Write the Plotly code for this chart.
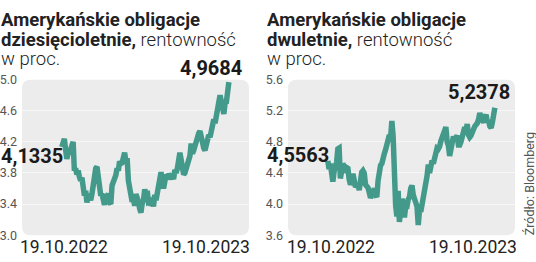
import pandas as pd
import plotly.graph_objects as go

# ---- data ----
start_date = "2022-10-19"
end_date = "2023-10-19"

y10 = [4.1335, 4.23, 4.24, 4.10, 3.98, 4.06, 4.04,
       4.10, 4.16, 4.20, 3.83, 3.86, 3.78, 3.83, 3.75, 3.70, 3.74, 3.61,
       3.51, 3.57, 3.42, 3.53, 3.48, 3.45, 3.53, 3.66, 3.75, 3.86, 3.88,
       3.72, 3.56, 3.51, 3.53, 3.43, 3.39, 3.48, 3.52, 3.53, 3.42,
       3.40, 3.64, 3.68, 3.74, 3.77, 3.86, 3.83, 3.95, 3.92, 3.93,
       4.01, 4.06, 3.95, 3.99, 3.70, 3.57, 3.51, 3.43, 3.47, 3.38, 3.53, 3.49,
       3.43, 3.34, 3.29, 3.41, 3.45, 3.59, 3.52, 3.57, 3.43, 3.44,
       3.38, 3.44, 3.37, 3.52, 3.45, 3.57, 3.65, 3.72, 3.81, 3.69, 3.60,
       3.69, 3.78, 3.72, 3.79, 3.76, 3.72, 3.77, 3.72, 3.84, 3.80, 3.86,
       4.05, 4.06, 3.97, 3.86, 3.78, 3.80, 3.85, 3.91, 3.96, 4.02,
       4.18, 4.05, 4.09, 4.16, 4.19, 4.28, 4.31, 4.34, 4.23, 4.19, 4.12, 4.09,
       4.18, 4.27, 4.29, 4.26, 4.33, 4.35, 4.49, 4.44, 4.54, 4.61,
       4.69, 4.80, 4.72, 4.65, 4.56, 4.70, 4.71, 4.84, 4.9684]

y2 = [4.5563, 4.45, 4.52, 4.38, 4.29, 4.42, 4.48,
      4.54, 4.71, 4.72, 4.33, 4.41, 4.52, 4.48, 4.45, 4.47, 4.46, 4.32,
      4.25, 4.29, 4.39, 4.31, 4.22, 4.24, 4.26, 4.18, 4.32, 4.41, 4.43,
      4.40, 4.25, 4.24, 4.21, 4.15, 4.08, 4.12, 4.18, 4.20, 4.12,
      4.09, 4.30, 4.47, 4.50, 4.52, 4.62, 4.65, 4.70, 4.78, 4.81,
      4.89, 4.86, 5.07, 4.87, 4.03, 3.98, 3.84, 4.17, 3.77, 3.97, 4.06, 4.03,
      3.83, 3.97, 3.97, 4.06, 4.09, 4.20, 4.24, 4.12, 4.07, 4.01,
      3.97, 3.73, 3.92, 3.90, 3.99, 4.05, 4.17, 4.27, 4.36, 4.51, 4.40,
      4.48, 4.56, 4.52, 4.59, 4.65, 4.72, 4.71, 4.74, 4.81, 4.87, 4.87,
      4.94, 4.99, 4.80, 4.75, 4.62, 4.74, 4.83, 4.87, 4.83, 4.88,
      4.88, 4.76, 4.76, 4.80, 4.89, 4.96, 4.99, 4.94, 5.03, 4.89, 4.86, 4.88,
      4.94, 4.99, 5.00, 5.02, 5.04, 5.09, 5.17, 5.11, 5.09, 5.05,
      5.11, 5.15, 5.05, 5.08, 5.00, 4.98, 5.05, 5.17, 5.2378]

ticks10 = [3.0, 3.4, 3.8, 4.2, 4.6, 5.0]
ticks2 = [3.6, 4.0, 4.4, 4.8, 5.2, 5.6]
tick_text10 = ["3.0", "3.4", "3.8", "4.2", "4.6", "5.0"]
tick_text2 = ["3.6", "4.0", "4.4", "4.8", "5.2", "5.6"]

title10_lines = ["<b>Amerykańskie obligacje</b>", "<b>dziesięcioletnie,</b> rentowność", "w proc."]
title2_lines = ["<b>Amerykańskie obligacje</b>", "<b>dwuletnie,</b> rentowność", "w proc."]
first10, last10 = "4,1335", "4,9684"
first2, last2 = "4,5563", "5,2378"
date_labels = ["19.10.2022", "19.10.2023"]
source = "Źródło: Bloomberg"

# ---- figure ----
W, H = 536, 262
LINE = "#439a8b"
BG = "#ececec"
FONT = "Roboto"

d10 = pd.date_range(start_date, end_date, periods=len(y10))
d2 = pd.date_range(start_date, end_date, periods=len(y2))

x_range = [pd.Timestamp(start_date) - pd.Timedelta(days=87),
           pd.Timestamp(end_date) + pd.Timedelta(days=44)]

fig = go.Figure()
fig.add_trace(go.Scatter(x=d10, y=y10, mode="lines", xaxis="x", yaxis="y",
                         line=dict(color=LINE, width=5.5), hoverinfo="skip"))
fig.add_trace(go.Scatter(x=d2, y=y2, mode="lines", xaxis="x2", yaxis="y2",
                         line=dict(color=LINE, width=5.5), hoverinfo="skip"))

px = lambda v: v / W
py = lambda v: 1 - v / H

dom_y = [py(241), py(76)]
dom_x1 = [px(22), px(249)]
dom_x2 = [px(288), px(515)]

common_x = dict(range=x_range, showgrid=False, showticklabels=False, zeroline=False,
                showline=False, fixedrange=True)
fig.update_layout(
    width=W, height=H, margin=dict(l=0, r=0, t=0, b=0),
    paper_bgcolor="white", plot_bgcolor="rgba(0,0,0,0)", showlegend=False,
    font=dict(family=FONT, color="#222"),
    xaxis=dict(domain=dom_x1, anchor="y", **common_x),
    xaxis2=dict(domain=dom_x2, anchor="y2", **common_x),
    yaxis=dict(domain=dom_y, anchor="x", range=[3.0, 5.0], tickvals=ticks10, ticktext=tick_text10,
               showgrid=True, gridcolor="#f7f7f7", gridwidth=1, zeroline=False, ticks="",
               tickfont=dict(size=12.5, color="#555", family=FONT), ticklabelstandoff=4,
               fixedrange=True),
    yaxis2=dict(domain=dom_y, anchor="x2", range=[3.6, 5.6], tickvals=ticks2, ticktext=tick_text2,
                showgrid=True, gridcolor="#f7f7f7", gridwidth=1, zeroline=False, ticks="",
                tickfont=dict(size=12.5, color="#555", family=FONT), ticklabelstandoff=4,
                fixedrange=True),
)


def rounded_rect(x0, y0, x1, y1, r):
    rx, ry = r / W, r / H
    X0, X1 = px(x0), px(x1)
    Y0, Y1 = py(y1), py(y0)  # bottom, top in paper
    return (f"M {X0+rx},{Y1} L {X1-rx},{Y1} Q {X1},{Y1} {X1},{Y1-ry} "
            f"L {X1},{Y0+ry} Q {X1},{Y0} {X1-rx},{Y0} L {X0+rx},{Y0} "
            f"Q {X0},{Y0} {X0},{Y0+ry} L {X0},{Y1-ry} Q {X0},{Y1} {X0+rx},{Y1} Z")


for (a, b) in [(22, 249), (288, 515)]:
    fig.add_shape(type="path", path=rounded_rect(a, 76, b, 241, 9), xref="paper", yref="paper",
                  fillcolor=BG, line=dict(width=0), layer="below")

ann = []
tfont = dict(size=18.5, color="#222", family=FONT, weight=300)
for x0, lines in [(-1, title10_lines), (265, title2_lines)]:
    for i, t in enumerate(lines):
        ann.append(dict(x=px(x0), y=py(12.5 + 21 * i), xref="paper", yref="paper",
                        xanchor="left", yanchor="middle", text=t, align="left",
                        showarrow=False, font=tfont))
# value labels
big = dict(size=20, color="#1a1a1a", family=FONT)
ann.append(dict(x=px(244), y=py(64), xref="paper", yref="paper", xanchor="right", yanchor="middle",
                text=f"<b>{last10}</b>", showarrow=False, font=big))
ann.append(dict(x=px(-1), y=py(157), xref="paper", yref="paper", xanchor="left", yanchor="middle",
                text=f"<b>{first10}</b>", showarrow=False, font=big))
ann.append(dict(x=px(512), y=py(89), xref="paper", yref="paper", xanchor="right", yanchor="middle",
                text=f"<b>{last2}</b>", showarrow=False, font=big))
ann.append(dict(x=px(265), y=py(156), xref="paper", yref="paper", xanchor="left", yanchor="middle",
                text=f"<b>{first2}</b>", showarrow=False, font=big))
# date labels
dfont = dict(size=17.5, color="#222", family=FONT)
for cx, lab in [(64, date_labels[0]), (206, date_labels[1]), (331, date_labels[0]), (473, date_labels[1])]:
    ann.append(dict(x=px(cx), y=py(253), xref="paper", yref="paper", xanchor="center", yanchor="middle",
                    text=lab, showarrow=False, font=dfont))
# source
ann.append(dict(x=px(529), y=py(187), xref="paper", yref="paper", xanchor="center", yanchor="middle",
                text=source, textangle=-90, showarrow=False,
                font=dict(size=12.5, color="#555", family=FONT)))
fig.update_layout(annotations=ann)

fig.write_html("out.html")
